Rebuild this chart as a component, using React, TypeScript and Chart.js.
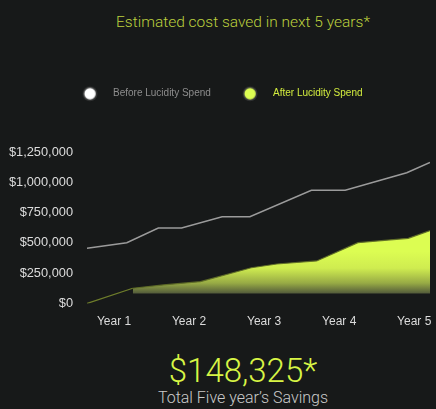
import React, { useEffect, useRef } from "react";
import Chart from "chart.js/auto";

// ---- data ----
const yearTicks = [1, 2, 3, 4, 5];
const yearLabels = ["Year 1", "Year 2", "Year 3", "Year 4", "Year 5"];
const yTickValues = [0, 250000, 500000, 750000, 1000000, 1250000];

const beforeLabel = "Before Lucidity Spend";
const beforeX = [0.64, 1.17, 1.59, 1.9, 2.44, 2.81, 3.63, 4.08, 4.9, 5.21];
const beforeY = [455000, 502000, 623000, 623000, 716000, 716000, 934000, 934000, 1079000, 1163000];

const afterLabel = "After Lucidity Spend";
const afterX = [0.64, 1.25, 1.66, 2.15, 2.83, 3.17, 3.7, 4.25, 4.92, 5.21];
const afterY = [0, 126000, 153000, 180000, 295000, 326000, 351000, 502000, 538000, 601000];

const fillBaseline = 82500;

const titleText = "Estimated cost saved in next 5 years*";
const savingsText = "$148,325*";
const savingsCaption = "Total Five year\u2019s Savings";

const BG = "#171919";
const LIME = "#dcfd52";

function makeIcon(fill: string) {
  const c = document.createElement("canvas");
  c.width = 50;
  c.height = 20;
  const g = c.getContext("2d")!;
  g.beginPath();
  g.arc(27.25, 10, 7.3, 0, Math.PI * 2);
  g.fillStyle = "#3a3b3b";
  g.fill();
  g.beginPath();
  g.arc(27.25, 10, 5.7, 0, Math.PI * 2);
  g.fillStyle = fill;
  g.fill();
  return c;
}

export default function App() {
  const ref = useRef<HTMLCanvasElement | null>(null);

  useEffect(() => {
    const canvas = ref.current!;
    const icons = [makeIcon("#ffffff"), makeIcon(LIME)];
    const legendColors = ["#8d8d8d", "#d2ec3e"];

    const fillGradient = (ctx: any) => {
      const chart = ctx.chart;
      if (!chart.chartArea) return "rgba(0,0,0,0)";
      const y = chart.scales.y;
      const g = chart.ctx.createLinearGradient(0, y.getPixelForValue(430000), 0, y.getPixelForValue(fillBaseline));
      g.addColorStop(0, LIME);
      g.addColorStop(0.4, "#cfec50");
      g.addColorStop(0.75, "#98ab45");
      g.addColorStop(1, "#525a3a");
      return g;
    };

    const chart = new Chart(canvas, {
      type: "line",
      data: {
        datasets: [
          {
            label: beforeLabel,
            data: beforeX.map((x, i) => ({ x, y: beforeY[i] })),
            borderColor: "#9b9b9b",
            borderWidth: 1.5,
            pointRadius: 0,
            fill: false,
            tension: 0,
          },
          {
            label: afterLabel,
            data: afterX.map((x, i) => ({ x, y: afterY[i] })),
            borderColor: "rgba(96,110,40,0.9)",
            borderWidth: 1.2,
            pointRadius: 0,
            tension: 0,
            fill: { value: fillBaseline },
            backgroundColor: fillGradient,
            segment: {
              backgroundColor: (c: any) => (c.p0DataIndex === 0 ? "rgba(0,0,0,0)" : undefined),
              borderColor: (c: any) => (c.p0DataIndex === 0 ? "#6f7e2b" : undefined),
            },
          },
        ],
      },
      options: {
        animation: false,
        responsive: false,
        events: [],
        layout: { padding: { top: 72, right: 6, left: 0, bottom: 6.5 } },
        plugins: {
          tooltip: { enabled: false },
          title: { display: false },
          subtitle: {
            display: true,
            text: "",
            position: "top",
            weight: 500,
            font: { size: 10 },
            padding: { top: 0, bottom: 31.3 },
          },
          legend: {
            display: true,
            position: "top",
            align: "center",
            weight: 1000,
            labels: {
              usePointStyle: true,
              pointStyleWidth: 40.5,
              boxHeight: 10,
              padding: 16.7,
              font: { family: "'Liberation Sans', Arial, sans-serif", size: 10 },
              generateLabels: (ch: any) =>
                ch.data.datasets.map((ds: any, i: number) => ({
                  text: ds.label,
                  fontColor: legendColors[i],
                  pointStyle: icons[i],
                  datasetIndex: i,
                  hidden: false,
                  lineWidth: 0,
                  strokeStyle: "rgba(0,0,0,0)",
                  fillStyle: "rgba(0,0,0,0)",
                })),
            },
          },
        },
        scales: {
          x: {
            type: "linear",
            min: beforeX[0],
            max: beforeX[beforeX.length - 1],
            grid: { display: false, drawTicks: true, tickLength: 11 },
            border: { display: false },
            afterBuildTicks: (axis: any) => {
              axis.ticks = yearTicks.map((v) => ({ value: v }));
            },
            afterFit: (axis: any) => {
              axis.height = 30;
            },
            ticks: {
              padding: 0,
              color: "#dcdcdc",
              font: { family: "'Liberation Sans', Arial, sans-serif", size: 12 },
              callback: (v: any) => {
                const i = yearTicks.indexOf(Number(v));
                return i >= 0 ? yearLabels[i] : "";
              },
            },
          },
          y: {
            type: "linear",
            min: 0,
            max: yTickValues[yTickValues.length - 1],
            grid: { display: false, drawTicks: false },
            border: { display: false },
            afterBuildTicks: (axis: any) => {
              axis.ticks = yTickValues.map((v) => ({ value: v }));
            },
            afterFit: (axis: any) => {
              axis.width = 87;
            },
            ticks: {
              padding: 14,
              color: "#dcdcdc",
              font: { family: "'Liberation Sans', Arial, sans-serif", size: 12.8 },
              callback: (v: any) => "$" + Number(v).toLocaleString("en-US"),
            },
          },
        },
      },
    } as any);

    return () => chart.destroy();
  }, []);

  const font = "Roboto, 'Noto Sans', sans-serif";

  return (
    <div
      style={{
        position: "fixed",
        left: 0,
        top: 0,
        width: 436,
        height: 409,
        background: BG,
        overflow: "hidden",
      }}
    >
      <div
        style={{
          position: "absolute",
          left: 243,
          top: 12,
          transform: "translateX(-50%)",
          whiteSpace: "nowrap",
          fontFamily: font,
          fontWeight: 300,
          fontSize: 15.5,
          lineHeight: "20px",
          color: "#bcd03e",
        }}
      >
        {titleText}
      </div>
      <canvas ref={ref} width={436} height={340} style={{ position: "absolute", left: 0, top: 0, width: 436, height: 340 }} />
      <div
        style={{
          position: "absolute",
          left: 243,
          top: 352,
          transform: "translateX(-50%)",
          whiteSpace: "nowrap",
          fontFamily: font,
          fontWeight: 300,
          fontSize: 33,
          lineHeight: "38px",
          color: "#d8f545",
        }}
      >
        {savingsText}
      </div>
      <div
        style={{
          position: "absolute",
          left: 243,
          top: 388,
          transform: "translateX(-50%)",
          whiteSpace: "nowrap",
          fontFamily: font,
          fontWeight: 300,
          fontSize: 16,
          lineHeight: "20px",
          color: "#cacaca",
        }}
      >
        {savingsCaption}
      </div>
    </div>
  );
}
